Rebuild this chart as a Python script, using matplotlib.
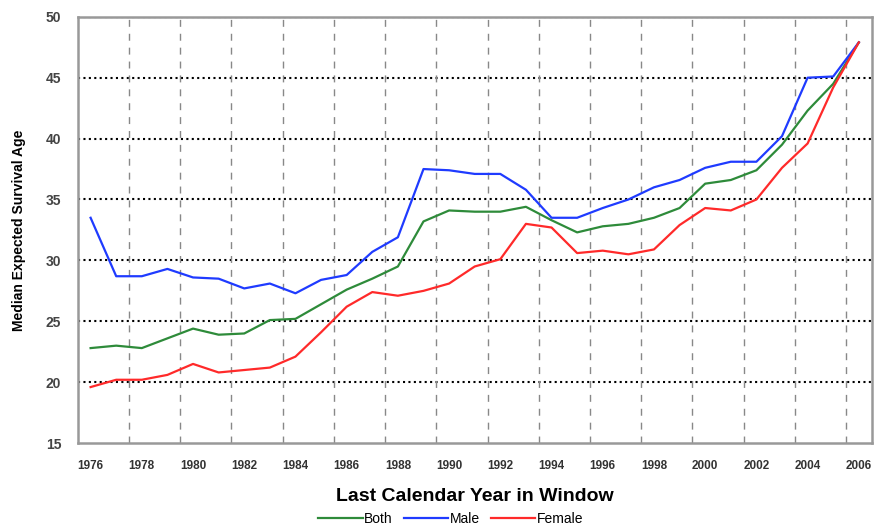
import matplotlib.pyplot as plt
import numpy as np

# Datos
anios = list(range(1976, 2007))
ambos = [22.8, 23.0, 22.8, 23.6, 24.4, 23.9, 24.0, 25.1, 25.2, 26.4, 27.6,
         28.5, 29.5, 33.2, 34.1, 34.0, 34.0, 34.4, 33.3, 32.3, 32.8, 33.0,
         33.5, 34.3, 36.3, 36.6, 37.4, 39.5, 42.3, 44.5, 47.9]
hombres = [33.5, 28.7, 28.7, 29.3, 28.6, 28.5, 27.7, 28.1, 27.3, 28.4, 28.8,
           30.7, 31.9, 37.5, 37.4, 37.1, 37.1, 35.8, 33.5, 33.5, 34.3, 35.0,
           36.0, 36.6, 37.6, 38.1, 38.1, 40.2, 45.0, 45.1, 47.9]
mujeres = [19.6, 20.2, 20.2, 20.6, 21.5, 20.8, 21.0, 21.2, 22.1, 24.1, 26.2,
           27.4, 27.1, 27.5, 28.1, 29.5, 30.1, 33.0, 32.7, 30.6, 30.8, 30.5,
           30.9, 32.9, 34.3, 34.1, 35.0, 37.6, 39.6, 44.2, 47.9]

plt.rcParams['font.family'] = ['Liberation Sans', 'DejaVu Sans']

fig = plt.figure(figsize=(8.84, 5.25), dpi=100)
ax = fig.add_axes([0.088, 0.156, 0.898, 0.812])

ax.plot(anios, ambos, color="#2E8B3A", lw=1.6, label="Both")
ax.plot(anios, hombres, color="#1F3BFF", lw=1.6, label="Male")
ax.plot(anios, mujeres, color="#FF2A2A", lw=1.6, label="Female")

ax.set_xlim(1975.5, 2006.5)
ax.set_ylim(15, 50)
ax.set_xticks(anios[::2])
ax.set_xticklabels([str(a) for a in anios[::2]], fontsize=8.5, fontweight="bold", color="#333333")
ax.set_yticks(range(15, 51, 5))
ax.set_yticklabels([str(v) for v in range(15, 51, 5)], fontsize=10, fontweight="bold", color="#444444")
ax.tick_params(axis="x", length=0, pad=12)
ax.tick_params(axis="y", length=0, pad=12)

# rejilla: horizontales punteadas negras, verticales discontinuas grises
for v in range(20, 51, 5):
    ax.axhline(v, color="black", lw=1.5, ls=(0, (1, 1.6)), zorder=0.5)
for x in np.arange(1977.5, 2006, 2):
    ax.axvline(x, color="#888888", lw=1.0, ls=(0, (5, 5)), zorder=0.5)

for lado in ["left", "bottom", "right", "top"]:
    ax.spines[lado].set_color("#999999")
    ax.spines[lado].set_linewidth(1.8)

ax.set_xlabel("Last Calendar Year in Window", fontsize=14, fontweight="bold", labelpad=12)
ax.set_ylabel("Median Expected Survival Age", fontsize=10, fontweight="bold", labelpad=14)

fig.legend(loc="lower center", bbox_to_anchor=(0.51, -0.025), ncol=3, frameon=False,
           fontsize=10, handlelength=3.2, handletextpad=0.1, columnspacing=0.8)

plt.savefig("out.png", dpi=100)
